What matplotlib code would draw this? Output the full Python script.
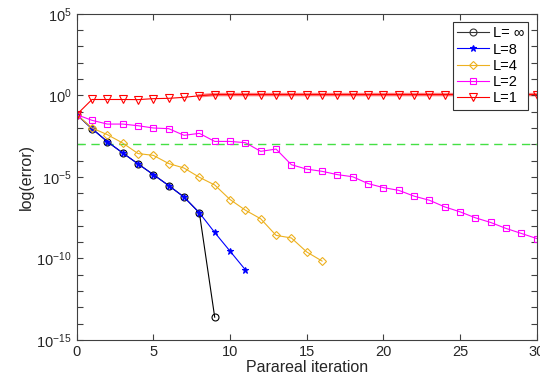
import numpy as np
import matplotlib
matplotlib.use("Agg")
import matplotlib.pyplot as plt
from matplotlib.ticker import FixedLocator, FixedFormatter

plt.rcParams['font.family'] = ['Liberation Sans', 'DejaVu Sans']
plt.rcParams['mathtext.fontset'] = 'custom'
plt.rcParams['mathtext.rm'] = 'Liberation Sans'
plt.rcParams['mathtext.it'] = 'Liberation Sans:italic'

# errors (per parareal iteration)
err_inf = [6.6e-2, 9.1e-3, 1.45e-3, 2.95e-4, 6.3e-5, 1.38e-5, 2.95e-6, 5.8e-7, 6.3e-8, 2.5e-14]
err_8 = [6.6e-2, 9.1e-3, 1.45e-3, 2.95e-4, 6.3e-5, 1.38e-5, 2.95e-6, 5.8e-7, 6.3e-8,
         3.9e-9, 2.8e-10, 2.0e-11]
err_4 = [6.6e-2, 1.0e-2, 3.9e-3, 1.2e-3, 2.7e-4, 2.1e-4, 6.6e-5, 3.5e-5, 9.5e-6, 3.2e-6,
         4.1e-7, 9.1e-8, 2.7e-8, 2.6e-9, 1.8e-9, 2.5e-10, 6.9e-11]
err_2 = [6.6e-2, 2.95e-2, 1.74e-2, 1.74e-2, 1.38e-2, 1.0e-2, 9.1e-3, 3.55e-3, 4.7e-3, 1.5e-3,
         1.5e-3, 1.26e-3, 3.7e-4, 5.1e-4, 5.6e-5, 3.0e-5, 2.2e-5, 1.38e-5, 1.02e-5, 3.9e-6,
         2.2e-6, 1.5e-6, 6.6e-7, 3.7e-7, 1.45e-7, 7.2e-8, 3.1e-8, 1.6e-8, 6.9e-9, 3.4e-9, 1.66e-9]
err_1 = [6.6e-2, 0.56, 0.56, 0.56, 0.55, 0.63, 0.66, 0.76, 0.95, 1.12,
         1.12, 1.12, 1.12, 1.12, 1.12, 1.12, 1.12, 1.12, 1.12, 1.12,
         1.12, 1.12, 1.12, 1.12, 1.12, 1.12, 1.12, 1.12, 1.12, 1.12, 1.12]
tol = 1e-3

labels = ['L= \u221e', 'L=8', 'L=4', 'L=2', 'L=1']

fig = plt.figure(figsize=(5.4, 3.85), dpi=100)
ax = fig.add_axes([0.142, 0.117, 0.852, 0.847])

ax.axhline(tol, color='#44e044', ls='--', lw=1.0, dashes=(6, 4))

ax.semilogy(np.arange(len(err_inf)), err_inf, color='k', lw=0.8, marker='o',
            mfc='none', ms=5, mew=0.8, label=labels[0])
ax.semilogy(np.arange(len(err_8)), err_8, color='#0000ff', lw=0.8, marker='*',
            ms=5, mew=0.8, label=labels[1])
ax.semilogy(np.arange(len(err_4)), err_4, color='#EDB120', lw=0.8, marker='D',
            mfc='none', ms=4.5, mew=0.8, label=labels[2])
ax.semilogy(np.arange(len(err_2)), err_2, color='#ff00ff', lw=0.8, marker='s',
            mfc='none', ms=4, mew=0.8, label=labels[3])
# pale band under the saturated part of L=1
x1 = np.arange(len(err_1))
ax.semilogy(x1[8:], err_1[8:], color='#ff8080', lw=2.5, zorder=1.5)
ax.semilogy(x1, err_1, color='#ff0000', lw=0.8, marker='v',
            mfc='none', ms=5.5, mew=0.8, label=labels[4])

ax.set_xlim(0, 30)
ax.set_ylim(1e-15, 1e5)
ax.set_xticks([0, 5, 10, 15, 20, 25, 30])

major = [10.0**k for k in (-15, -10, -5, 0, 5)]
ax.yaxis.set_major_locator(FixedLocator(major))
ax.yaxis.set_major_formatter(FixedFormatter(['$10^{-15}$', '$10^{-10}$', '$10^{-5}$',
                                             '$10^{0}$', '$10^{5}$']))
ax.yaxis.set_minor_locator(FixedLocator([10.0**k for k in range(-15, 6)]))
ax.yaxis.set_minor_formatter(FixedFormatter([]))

ax.tick_params(which='both', direction='in', top=True, right=True, length=4,
               width=0.8, colors='#404040', labelcolor='#262626', labelsize=10.5)
for s in ax.spines.values():
    s.set_color('#404040')
    s.set_linewidth(0.8)

ax.set_xlabel('Parareal iteration', fontsize=11.5, color='#262626', labelpad=1)
ax.set_ylabel('log(error)', fontsize=11.5, color='#262626', labelpad=2)

leg = ax.legend(loc='upper right', bbox_to_anchor=(0.982, 0.975), fontsize=10.5,
                fancybox=False, framealpha=1, edgecolor='#333333', handlelength=2.2,
                borderpad=0.3, labelspacing=0.15, handletextpad=0.25, borderaxespad=0)
leg.get_frame().set_linewidth(0.8)
leg.get_lines()[0].set_color('#333333')

fig.savefig('out.png', dpi=100)
